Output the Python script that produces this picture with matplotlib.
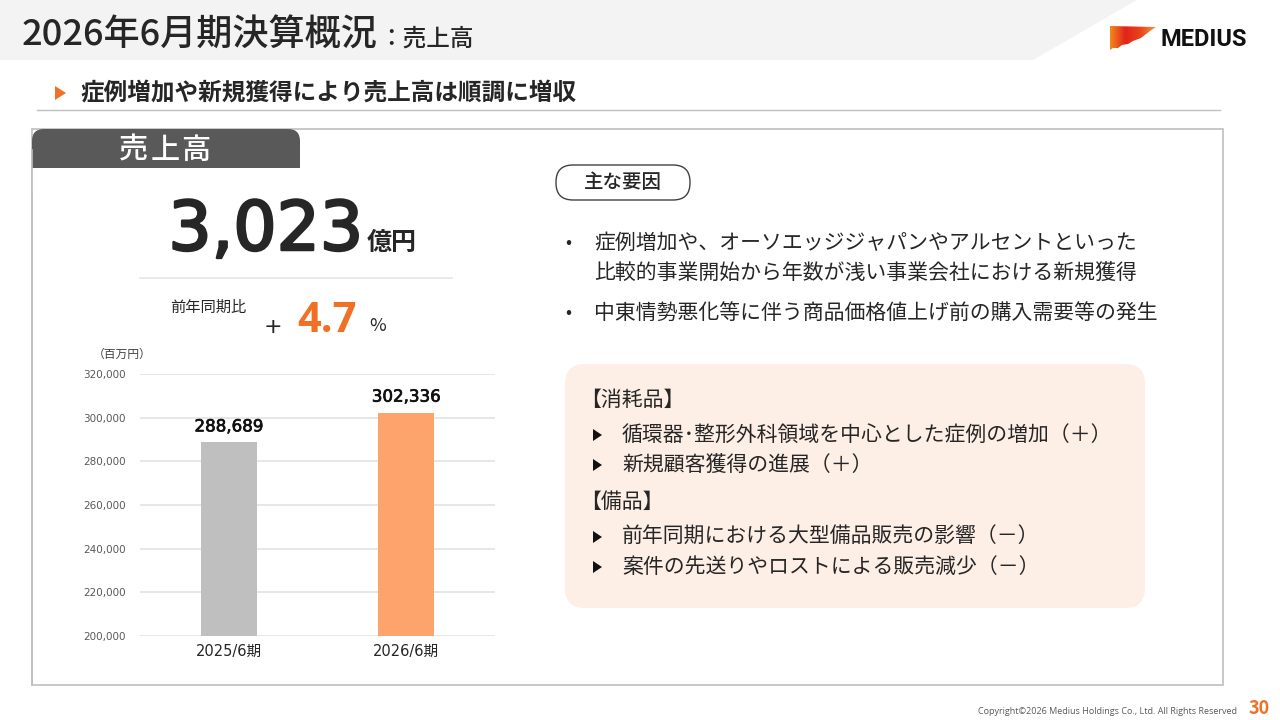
import matplotlib
matplotlib.use("Agg")
import matplotlib.pyplot as plt
import matplotlib.patheffects as pe
from matplotlib.patches import Polygon, Rectangle, FancyBboxPatch
from matplotlib.ticker import FuncFormatter
import numpy as np

plt.rcParams['font.family'] = ['Noto Sans CJK JP', 'DejaVu Sans']

# data
periods = ['2025/6期', '2026/6期']
sales = [288689, 302336]
bar_colors = ['#bfbfbf', '#fda46c']
y_ticks = [200000, 220000, 240000, 260000, 280000, 300000, 320000]

title_main = '2026年6月期決算概況'
title_sub = '：売上高'
headline = '症例増加や新規獲得により売上高は順調に増収'
total_value = '3,023'
total_unit = '億円'
yoy_label = '前年同期比'
yoy_value = '4.7'
factors = [
    ['症例増加や、オーソエッジジャパンやアルセントといった',
     '比較的事業開始から年数が浅い事業会社における新規獲得'],
    ['中東情勢悪化等に伴う商品価格値上げ前の購入需要等の発生'],
]
box_sections = [
    ('【消耗品】', ['循環器･整形外科領域を中心とした症例の増加（＋）', '新規顧客獲得の進展（＋）']),
    ('【備品】', ['前年同期における大型備品販売の影響（－）', '案件の先送りやロストによる販売減少（－）']),
]

ORANGE = '#f07025'
DARK = '#262626'
NUM_FONT = ['DejaVu Sans', 'Noto Sans CJK JP']

fig = plt.figure(figsize=(12.8, 7.2), dpi=100)
bg = fig.add_axes([0, 0, 1, 1], zorder=0)
bg.set_xlim(0, 1280)
bg.set_ylim(720, 0)
bg.axis('off')

# header band
bg.add_patch(Polygon([(0, 0), (1137, 0), (1033, 60), (0, 60)], closed=True,
                     facecolor='#f3f3f3', edgecolor='none'))
t = bg.text(22, 36, title_main, fontsize=26, color=DARK, va='center', ha='left', fontweight='medium')
fig.canvas.draw()
x_end = t.get_window_extent().x1
bg.text(x_end + 1, 39, title_sub, fontsize=17, color=DARK, va='center', ha='left', fontweight='medium')

# logo
logo_pts = [(1110, 26), (1156, 27), (1150, 31), (1141, 38), (1133, 41), (1128, 44),
            (1122, 45), (1118, 48), (1113, 48), (1110, 50)]
logo = Polygon(logo_pts, closed=True, facecolor='none', edgecolor='none')
bg.add_patch(logo)
grad = np.linspace(0, 1, 256).reshape(1, -1)
cmap = matplotlib.colors.LinearSegmentedColormap.from_list(
    'logo', ['#f28a1e', '#e2231a', '#e8451c', '#f39a3c'])
im = bg.imshow(grad, extent=(1110, 1156, 50, 26), cmap=cmap, aspect='auto', zorder=2)
im.set_clip_path(logo)
bg.set_xlim(0, 1280)
bg.set_ylim(720, 0)
bg.text(1160, 39, 'MEDIUS', fontsize=17, fontweight='bold', color='#111111',
        va='center', ha='left', family=['Roboto', 'DejaVu Sans'])

# headline
bg.add_patch(Polygon([(55, 86), (55, 100), (66, 93)], closed=True, facecolor=ORANGE, edgecolor='none'))
bg.text(80, 93, headline, fontsize=17, color=DARK, va='center', ha='left', fontweight='bold')
bg.plot([37, 1220], [110, 110], color='#bfbfbf', lw=1)

# main panel
bg.add_patch(Rectangle((32, 129), 1191, 556, facecolor='white', edgecolor='#bfbfbf', lw=1.2))
bg.add_patch(FancyBboxPatch((32, 129), 268, 60, boxstyle='round,pad=0,rounding_size=12',
                            facecolor='#595959', edgecolor='none'))
bg.add_patch(Rectangle((32, 168), 268, 25, facecolor='white', edgecolor='none'))
bg.add_patch(Rectangle((32, 150), 268, 18, facecolor='#595959', edgecolor='none'))
bg.plot([32, 32], [150, 685], color='#bfbfbf', lw=1.2)
for ch, cx in zip('売上高', [134, 165, 196]):
    bg.text(cx, 150, ch, fontsize=21, color='white', va='center', ha='center', fontweight='medium')

# big number
bg.text(363, 231, total_value, fontsize=49, color=DARK, va='center', ha='right',
        family=['DejaVu Sans'],
        path_effects=[pe.withStroke(linewidth=1.8, foreground=DARK)])
bg.text(367, 243, total_unit, fontsize=18, color=DARK, va='center', ha='left', fontweight='bold')
bg.plot([140, 452], [278, 278], color='#e6e6e6', lw=1.2)
bg.text(170, 307, yoy_label, fontsize=11, color=DARK, va='center', ha='left')
bg.text(273, 327, '+', fontsize=16, color=DARK, va='center', ha='center', family=['DejaVu Sans'])
bg.text(297, 321, yoy_value, fontsize=30, color=ORANGE, va='center', ha='left',
        fontweight='bold', family=['Open Sans', 'DejaVu Sans'])
bg.text(369, 326, '%', fontsize=13, color=DARK, va='center', ha='left')
bg.text(93, 354, '（百万円）', fontsize=8.5, color='#404040', va='center', ha='left')

# bar chart
ax = fig.add_axes([140 / 1280, 1 - 636 / 720, 355 / 1280, 262 / 720], zorder=1)
ax.patch.set_alpha(0)
x = np.arange(len(periods))
bars = ax.bar(x, sales, width=0.315, color=bar_colors, zorder=3)
ax.set_xlim(-0.5, 1.5)
ax.set_ylim(y_ticks[0], y_ticks[-1])
ax.set_yticks(y_ticks)
ax.yaxis.set_major_formatter(FuncFormatter(lambda v, p: f'{int(v):,}'))
ax.grid(axis='y', color='#e3e3e3', lw=1.2, zorder=0)
ax.set_xticks(x)
ax.set_xticklabels(periods, fontsize=10.5, color=DARK, family=NUM_FONT)
ax.tick_params(axis='y', labelsize=7.5, colors='#595959', length=0, pad=10)
ax.tick_params(axis='x', length=0, pad=6)
for lab in ax.get_yticklabels():
    lab.set_family(NUM_FONT)
for s in ax.spines.values():
    s.set_visible(False)
for b, v in zip(bars, sales):
    ax.annotate(f'{v:,}', (b.get_x() + b.get_width() / 2, v), xytext=(0, 5),
                textcoords='offset points', ha='center', va='bottom', fontsize=12,
                color='#111111', family=NUM_FONT,
                path_effects=[pe.withStroke(linewidth=0.5, foreground='#111111')])

# main factors
bg.add_patch(FancyBboxPatch((556, 165), 134, 35, boxstyle='round,pad=0,rounding_size=17',
                            facecolor='white', edgecolor='#404040', lw=1))
bg.text(623, 183, '主な要因', fontsize=14, color=DARK, va='center', ha='center', fontweight='medium')
y = 243
for item in factors:
    bg.text(568, y, '•', fontsize=13, color=DARK, va='center', ha='center')
    for line in item:
        bg.text(594, y, line, fontsize=15, color=DARK, va='center', ha='left')
        y += 30
    y += 10

# pink box
bg.add_patch(FancyBboxPatch((565, 364), 580, 244, boxstyle='round,pad=0,rounding_size=20',
                            facecolor='#fdeee6', edgecolor='none'))
y = 400
for head, items in box_sections:
    bg.text(580, y, head, fontsize=15, color=DARK, va='center', ha='left')
    y += 35
    for it in items:
        bg.add_patch(Polygon([(593, y - 6), (593, y + 6), (602, y)], closed=True,
                             facecolor='#111111', edgecolor='none'))
        bg.text(622, y, it, fontsize=15, color=DARK, va='center', ha='left')
        y += 30
    y += 7

# footer
bg.text(1237, 712, 'Copyright©2026 Medius Holdings Co., Ltd. All Rights Reserved', fontsize=6.5,
        color='#595959', va='center', ha='right', family=['Open Sans', 'DejaVu Sans'])
bg.text(1259, 709, '30', fontsize=13, color=ORANGE, va='center', ha='center', fontweight='bold')

fig.savefig('out.png', dpi=100)
